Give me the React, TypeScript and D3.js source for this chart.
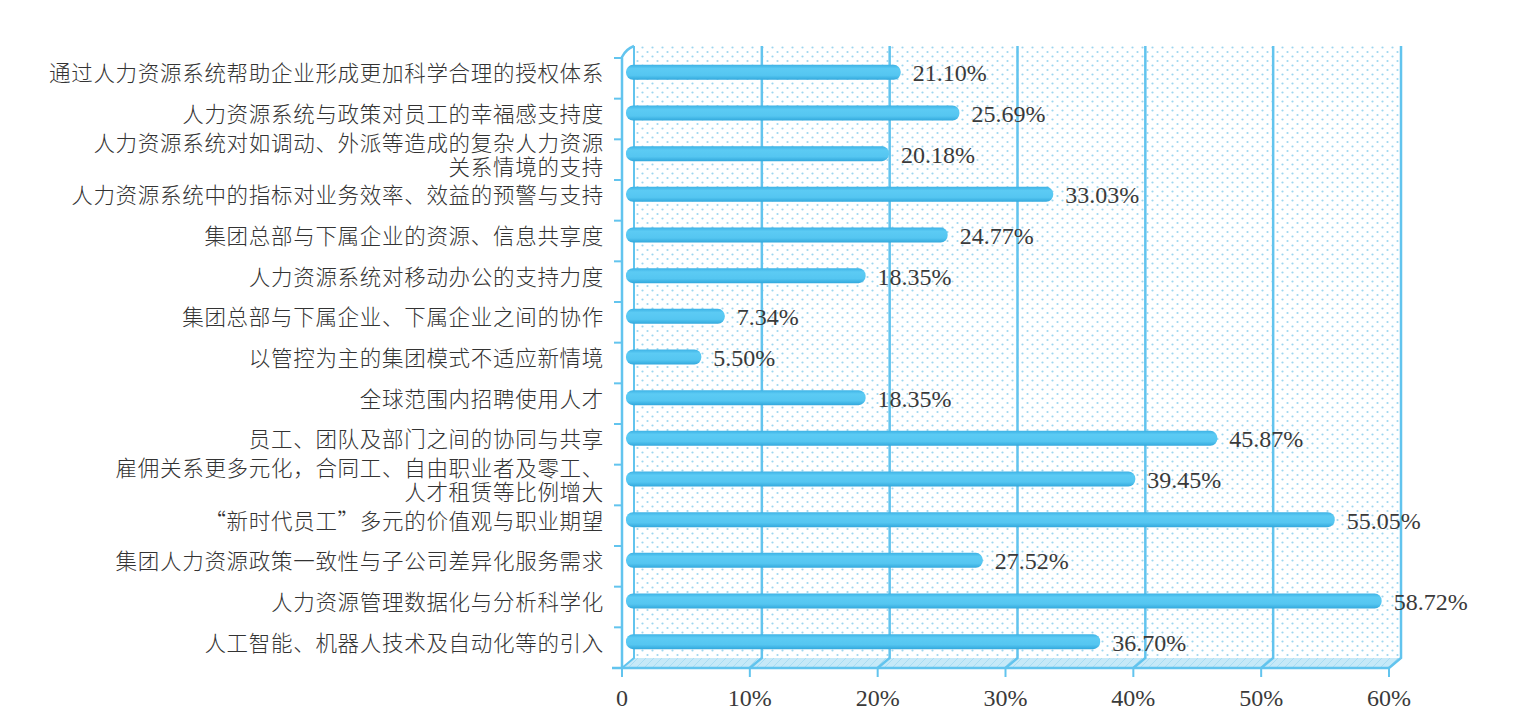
import React from "react";
import * as d3 from "d3";

// chart data
const categories = [
  "通过人力资源系统帮助企业形成更加科学合理的授权体系",
  "人力资源系统与政策对员工的幸福感支持度",
  "人力资源系统对如调动、外派等造成的复杂人力资源\n关系情境的支持",
  "人力资源系统中的指标对业务效率、效益的预警与支持",
  "集团总部与下属企业的资源、信息共享度",
  "人力资源系统对移动办公的支持力度",
  "集团总部与下属企业、下属企业之间的协作",
  "以管控为主的集团模式不适应新情境",
  "全球范围内招聘使用人才",
  "员工、团队及部门之间的协同与共享",
  "雇佣关系更多元化，合同工、自由职业者及零工、\n人才租赁等比例增大",
  "“新时代员工”多元的价值观与职业期望",
  "集团人力资源政策一致性与子公司差异化服务需求",
  "人力资源管理数据化与分析科学化",
  "人工智能、机器人技术及自动化等的引入",
];
const values = [21.1, 25.69, 20.18, 33.03, 24.77, 18.35, 7.34, 5.5, 18.35, 45.87, 39.45, 55.05, 27.52, 58.72, 36.7];
const xTicks = [0, 10, 20, 30, 40, 50, 60];
const xTickLabels = ["0", "10%", "20%", "30%", "40%", "50%", "60%"];

const W = 1513;
const H = 723;
const front = { left: 622, right: 1389, top: 57, bottom: 668 };
const depth = { dx: 12, dy: -11 };
const lineColor = "#62c4ee";
const cjkFont = "'Noto Sans CJK SC', 'Noto Sans', sans-serif";
const numFont = "'Liberation Serif', 'DejaVu Serif', serif";

export default function App() {
  const xFront = d3.scaleLinear().domain([0, 60]).range([front.left, front.right]);
  const xBack = d3.scaleLinear().domain([0, 60]).range([front.left + depth.dx, front.right + depth.dx]);
  const xBar = d3.scaleLinear().domain([0, 60]).range([front.left + 9, front.right + 9]);
  const y = d3.scaleBand<string>().domain(categories).range([front.top + 1, front.bottom]);
  const backTop = front.top + depth.dy;
  const backBottom = front.bottom + depth.dy + 1;
  const barH = 15;

  const floor = d3.line()([
    [xFront(0), front.bottom],
    [xFront(60), front.bottom],
    [xBack(60), backBottom],
    [xBack(0), backBottom],
  ]) + "Z";

  const bounds = [y(categories[0]) as number, ...categories.map((c) => (y(c) as number) + y.bandwidth())];

  return (
    <svg width={W} height={H} style={{ position: "absolute", left: 0, top: 0, background: "#fff" }}>
      <defs>
        <pattern id="dots" width={10} height={9} patternUnits="userSpaceOnUse">
          <circle cx={2.5} cy={2.5} r={1.1} fill="#9dd6ef" />
          <circle cx={7.5} cy={7} r={1.1} fill="#9dd6ef" />
        </pattern>
        <pattern id="hatch" width={8} height={8} patternUnits="userSpaceOnUse">
          <path d="M0,8L8,0" stroke="#a9dcf2" strokeWidth={1} />
        </pattern>
        <linearGradient id="barGrad" x1="0" y1="0" x2="0" y2="1">
          <stop offset="0" stopColor="#3db2e5" />
          <stop offset="0.25" stopColor="#5ccbf4" />
          <stop offset="0.7" stopColor="#55c6f1" />
          <stop offset="1" stopColor="#32a8dc" />
        </linearGradient>
      </defs>

      {/* back wall */}
      <rect x={xBack(0)} y={backTop} width={xBack(60) - xBack(0)} height={backBottom - backTop} fill="url(#dots)" />
      {/* floor */}
      <path d={floor} fill="#c6e9f8" />
      <path d={floor} fill="url(#hatch)" />

      {/* grid lines on back wall + floor diagonals */}
      {xTicks.map((t) => (
        <path
          key={"g" + t}
          d={`M${xBack(t)},${backTop}V${backBottom}L${xFront(t)},${front.bottom}`}
          fill="none"
          stroke={lineColor}
          strokeWidth={t === 0 ? 2 : 2.5}
        />
      ))}

      {/* left wall */}
      <path
        d={`M${front.left},${front.bottom}V${front.top}Q${front.left + 4},${front.top - 8} ${xBack(0)},${backTop}`}
        fill="none"
        stroke={lineColor}
        strokeWidth={2.5}
      />
      {/* front axis */}
      <line x1={front.left - 10} x2={xFront(60)} y1={front.bottom} y2={front.bottom} stroke={lineColor} strokeWidth={2.5} />
      {xTicks.map((t) => (
        <line key={"xt" + t} x1={xFront(t)} x2={xFront(t)} y1={front.bottom} y2={front.bottom + 9} stroke={lineColor} strokeWidth={2} />
      ))}
      {bounds.map((b, i) => (
        <line key={"yt" + i} x1={front.left - 8} x2={front.left} y1={b} y2={b} stroke={lineColor} strokeWidth={2} />
      ))}

      {/* bars */}
      {categories.map((c, i) => {
        const cy = (y(c) as number) + y.bandwidth() / 2 - 6;
        const x0 = xBar(0) - 5;
        const x1 = xBar(values[i]);
        return (
          <g key={"b" + i}>
            <rect x={x0} y={cy - barH / 2} width={x1 - x0} height={barH} rx={7} fill="url(#barGrad)" />
            <text x={x1 + 12} y={cy + 9} fontFamily={numFont} fontSize={24} fill="#3a3a3a">
              {values[i].toFixed(2)}%
            </text>
          </g>
        );
      })}

      {/* category labels */}
      {categories.map((c, i) => {
        const cy = (y(c) as number) + y.bandwidth() / 2 - 4;
        const lines = c.split("\n");
        const start = cy - ((lines.length - 1) * 24) / 2 + 7;
        return (
          <text key={"l" + i} textAnchor="end" fontFamily={cjkFont} fontWeight={300} fontSize={21.5} fill="#333" letterSpacing={0.7}>
            {lines.map((ln, j) => (
              <tspan key={j} x={604} y={start + j * 24}>
                {ln}
              </tspan>
            ))}
          </text>
        );
      })}

      {/* x tick labels */}
      {xTicks.map((t, i) => (
        <text key={"xl" + t} x={xFront(t)} y={706} textAnchor="middle" fontFamily={numFont} fontSize={24} fill="#3a3a3a">
          {xTickLabels[i]}
        </text>
      ))}
    </svg>
  );
}
